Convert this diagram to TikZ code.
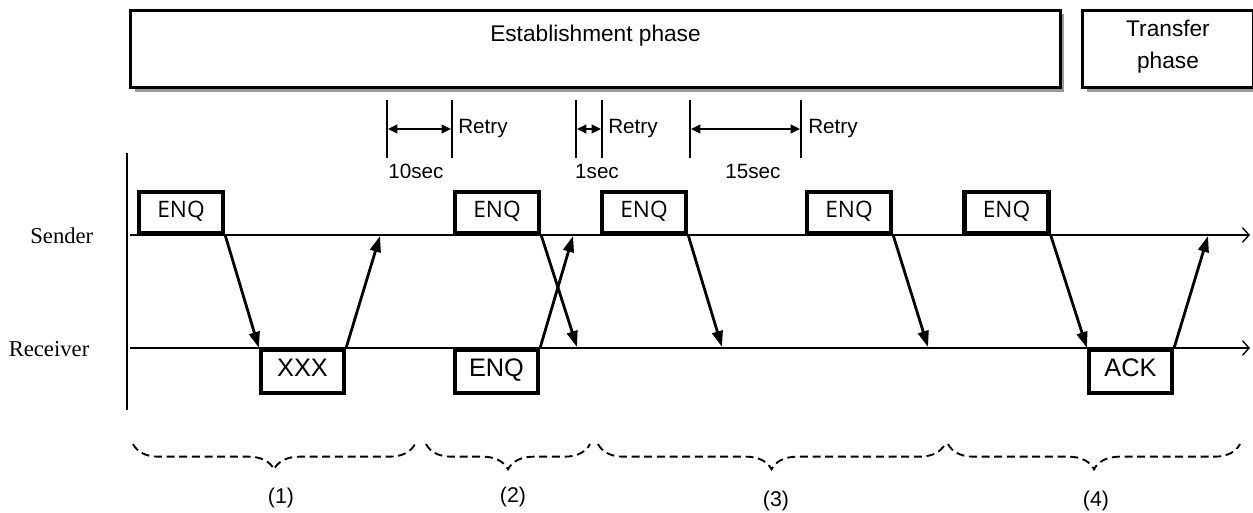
\documentclass[tikz,border=0pt]{standalone}
\usepackage{fontspec}
\setmainfont{Liberation Sans}
\newfontfamily\lanefont{Liberation Serif}
\newfontfamily\enqfont{Open Sans}
\usetikzlibrary{arrows.meta,decorations.pathreplacing,shadows}

\begin{document}
\begin{tikzpicture}[x=0.75pt,y=0.75pt,yscale=-1,xscale=1,
  phasebox/.style={draw,line width=2.2pt,fill=white,inner sep=0pt,
    drop shadow={shadow xshift=3pt,shadow yshift=-3pt,fill=gray!80,opacity=1}},
  sendbox/.style={draw,line width=3.4pt,minimum width=63pt,minimum height=31pt,inner sep=0pt,
    text height=0.72em,text depth=0pt,font=\enqfont\fontsize{17}{20}\selectfont},
  recvbox/.style={draw,line width=3.4pt,minimum width=62pt,minimum height=32pt,inner sep=0pt,
    text height=0.72em,text depth=0pt,font=\fontsize{19}{22}\selectfont},
  lane/.style={line width=1pt,-{Straight Barb[length=5pt,width=11pt]}},
  lanelabel/.style={font=\lanefont\fontsize{17}{20}\selectfont,anchor=east},
  msg/.style={line width=2.1pt,-{Triangle[length=12pt,width=8pt]}},
  tick/.style={line width=2.2pt},
  span/.style={line width=1.2pt,{Triangle[length=7pt,width=6.5pt]}-{Triangle[length=7pt,width=6.5pt]}},
  small/.style={font=\fontsize{15.5}{18}\selectfont,inner sep=0pt},
  group/.style={dashed,dash pattern=on 6pt off 3.5pt,line width=1.4pt,decorate,decoration={brace,mirror,amplitude=19pt}}]

\useasboundingbox (0,0) rectangle (1253,512);

% phases
\node[phasebox,minimum width=697pt,minimum height=58pt] (est) at (595.5,49) {};
\node[small,font=\fontsize{17}{20}\selectfont,anchor=north] (estlbl) at (est.north) [yshift=-12pt] {Establishment phase};
\node[phasebox,minimum width=128pt,minimum height=58pt] (tra) at (1168,49) {};
\node[align=center,font=\fontsize{17}{24}\selectfont,anchor=north] (tralbl) at (tra.north) [yshift=-5pt] {Transfer\\phase};

% time axis and lanes
\draw[line width=1pt] (127,153) -- (127,410);
\node[lanelabel] (snd) at (98,236) {Sender};
\node[lanelabel] (rcv) at (94,349) {Receiver};
\coordinate (s0) at (130,235);
\coordinate (s1) at (1250,235);
\coordinate (r0) at (130,348);
\coordinate (r1) at (1250,348);
\draw[lane] (s0) -- (s1);
\draw[lane] (r0) -- (r1);

% frames
\node[sendbox] (e1) at (181,212.5) {ENQ};
\node[sendbox] (e2) at (497,212.5) {ENQ};
\node[sendbox] (e3) at (644,212.5) {ENQ};
\node[sendbox] (e4) at (849,212.5) {ENQ};
\node[sendbox] (e5) at (1006.5,212.5) {ENQ};
\node[recvbox] (xxx) at (302.5,371.5) {XXX};
\node[recvbox] (renq) at (496.5,371.5) {ENQ};
\node[recvbox] (ack) at (1130.5,371.5) {ACK};

\coordinate (a1) at (380,236);
\coordinate (a2) at (577,347);
\coordinate (a3) at (573,236);
\coordinate (a4) at (722,347);
\coordinate (a5) at (928,347);
\coordinate (a6) at (1208,236);

\draw[msg] (e1.south east) -- (xxx.north west);
\draw[msg] (xxx.north east) -- (a1);
\draw[msg] (e2.south east) -- (a2);
\draw[msg] (renq.north east) -- (a3);
\draw[msg] (e3.south east) -- (a4);
\draw[msg] (e4.south east) -- (a5);
\draw[msg] (e5.south east) -- (ack.north west);
\draw[msg] (ack.north east) -- (a6);

% retry intervals
\draw[tick] (387,100) -- (387,158);
\draw[tick] (452,100) -- (452,158);
\draw[tick] (576,100) -- (576,158);
\draw[tick] (602,100) -- (602,158);
\draw[tick] (690,100) -- (690,158);
\draw[tick] (801,100) -- (801,158);
\coordinate (w1a) at (388,129);
\coordinate (w1b) at (451,129);
\coordinate (w2a) at (577,129);
\coordinate (w2b) at (601,129);
\coordinate (w3a) at (691,129);
\coordinate (w3b) at (800,129);
\draw[span] (w1a) -- (w1b);
\draw[span] (w2a) -- (w2b);
\draw[span] (w3a) -- (w3b);
\node[small,anchor=west] (rt1) at (458,129) {Retry};
\node[small,anchor=west] (rt2) at (608,129) {Retry};
\node[small,anchor=west] (rt3) at (808,129) {Retry};
\node[small] (d1) at (416,171) {10sec};
\node[small] (d2) at (597,171) {1sec};
\node[small] (d3) at (753,171) {15sec};

% sequence groups
\coordinate (g1a) at (133,444);
\coordinate (g1b) at (415,444);
\coordinate (g2a) at (426,444);
\coordinate (g2b) at (590,444);
\coordinate (g3a) at (598,444);
\coordinate (g3b) at (945,444);
\coordinate (g4a) at (948,444);
\coordinate (g4b) at (1240,444);
\draw[group] (g1a) -- (g1b);
\draw[group] (g2a) -- (g2b);
\draw[group] (g3a) -- (g3b);
\draw[group] (g4a) -- (g4b);
\node[small,font=\fontsize{16}{18}\selectfont] (n1) at (281,498) {(1)};
\node[small,font=\fontsize{16}{18}\selectfont] (n2) at (513,497) {(2)};
\node[small,font=\fontsize{16}{18}\selectfont] (n3) at (776,501) {(3)};
\node[small,font=\fontsize{16}{18}\selectfont] (n4) at (1096,501) {(4)};

\end{tikzpicture}
\end{document}
